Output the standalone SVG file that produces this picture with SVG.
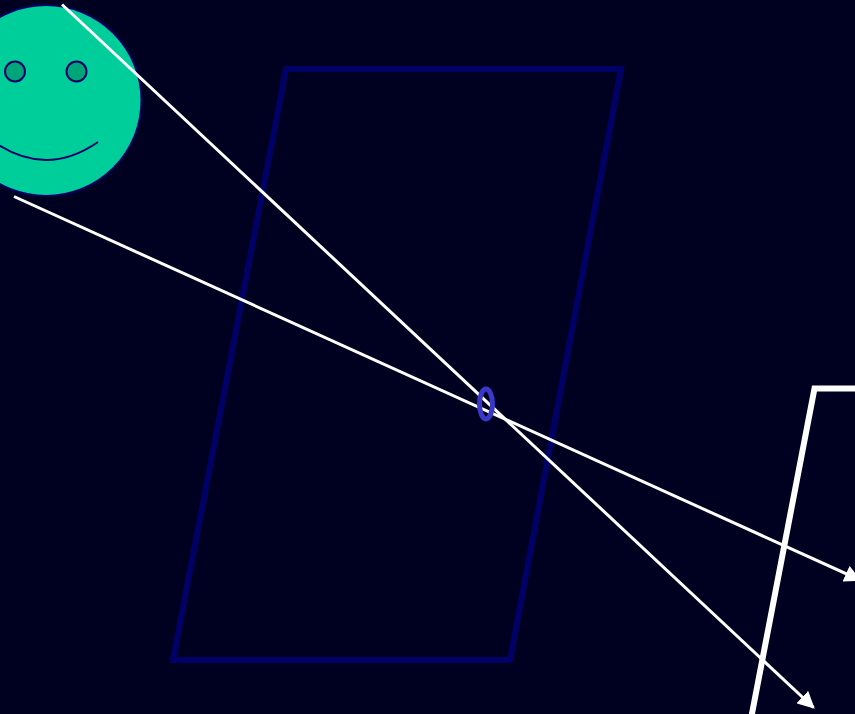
<svg xmlns="http://www.w3.org/2000/svg" width="855" height="714" viewBox="0 0 855 714">
<style>
.ray{fill:none;stroke:#fff;stroke-width:3}
.eye{fill:#00a67a;stroke:#000066;stroke-width:2}
</style>
<defs>
<marker id="ah" viewBox="0 0 10 10" refX="9" refY="5" markerUnits="userSpaceOnUse" markerWidth="17" markerHeight="17" orient="auto"><path d="M0 0L10 5L0 10Z" fill="#fff"/></marker>
</defs>
<rect width="855" height="714" fill="#000020"/>
<g id="mirror"><path d="M286 69H621L510 660H173Z" fill="none" stroke="#000066" stroke-width="6"/></g>
<g id="face">
<circle cx="46" cy="100.500" r="95.500" fill="#00ce9a" stroke="#000066" stroke-width="2"/>
<circle class="eye" cx="15" cy="71.500" r="10"/>
<circle class="eye" cx="76.500" cy="71.500" r="10"/>
<path d="M-6 142Q46 178 98 142" fill="none" stroke="#000066" stroke-width="2"/>
</g>
<g id="image"><path d="M750 724L814.500 388.500H865" fill="none" stroke="#fff" stroke-width="6"/></g>
<g id="connectors">
<path class="ray" d="M62 4.500L813.500 707.500" marker-end="url(#ah)"/>
<path class="ray" d="M14 196.500L860 580" marker-end="url(#ah)"/>
</g>
<g id="hole"><ellipse cx="486" cy="404" rx="6.500" ry="15" fill="none" stroke="#3a38c8" stroke-width="5"/></g>
</svg>
